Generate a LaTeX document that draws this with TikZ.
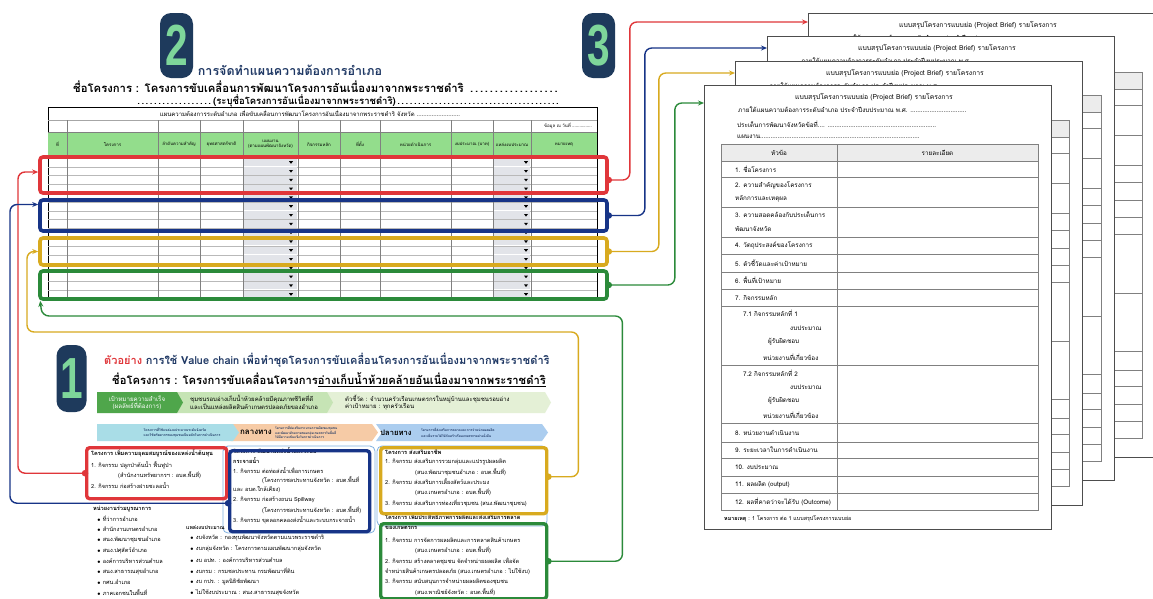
\documentclass[tikz,border=0pt]{standalone}
\usepackage{fontspec}
\setmainfont{Loma}[Script=Thai]
\newfontfamily\digitfont{Liberation Sans}
\usetikzlibrary{positioning,arrows.meta}

\definecolor{badgeblue}{HTML}{1E3A5C}
\definecolor{badgegreen}{HTML}{7ED69A}
\definecolor{titleblue}{HTML}{1F3864}
\definecolor{cred}{HTML}{E0363A}
\definecolor{cblue}{HTML}{173487}
\definecolor{cyellow}{HTML}{D8AA1F}
\definecolor{cgreen}{HTML}{2B8A3A}
\definecolor{headgreen}{HTML}{93DD8C}
\definecolor{dropgray}{HTML}{E2E4E9}
\definecolor{pagegray}{HTML}{4D4D4D}
\definecolor{vcdark}{HTML}{4FA64B}
\definecolor{vcmid}{HTML}{C6E4B5}
\definecolor{vclight}{HTML}{E4F0D6}
\definecolor{vccyan}{HTML}{A9DDE7}
\definecolor{vcpeach}{HTML}{F6CBA6}
\definecolor{vcblue}{HTML}{ABCDEF}
\definecolor{lineblue}{HTML}{7FB0E0}

\tikzset{
  badge/.style={fill=badgeblue, rounded corners=11pt, minimum width=33pt,
    minimum height=65pt, inner sep=0pt, text=badgegreen,
    font=\digitfont\bfseries\fontsize{58}{58}\selectfont},
  rowbox/.style={draw=#1, line width=3.6pt, rounded corners=3pt,
    minimum width=567pt, inner sep=0pt},
  exbox/.style={draw=#1, line width=3.4pt, rounded corners=3pt,
    inner sep=0pt, anchor=north west},
  page/.style={draw=pagegray, line width=1.1pt, fill=white, minimum width=347pt,
    minimum height=444pt, anchor=north west, inner sep=0pt},
  link/.style={line width=1.4pt, rounded corners=7pt, -{Stealth[length=6pt,width=5pt]}},
  dot/.style={circle, fill, inner sep=0pt, minimum size=6.5pt},
  tiny/.style={font=\fontsize{4.4}{5}\selectfont, inner sep=0pt},
  chevtext/.style={inner sep=0pt, align=left, text=titleblue,
    font=\bfseries\fontsize{3.4}{5.6}\selectfont},
  doctext/.style={font=\fontsize{6.3}{7}\selectfont, inner sep=0pt, anchor=west},
  extext/.style={font=\fontsize{5.6}{6.5}\selectfont, inner sep=0pt, anchor=west},
  exhead/.style={extext, font=\bfseries\fontsize{5.6}{6.5}\selectfont},
}

\begin{document}
\begin{tikzpicture}[x=1pt, y=-1pt]

% page frame and table grid of one project brief
\newcommand\briefhead[1]{%
  \begin{scope}[shift={(#1.north west)}]
    \node[font=\fontsize{6.8}{8}\selectfont, inner sep=0pt] (#1-title) at (170,12) {แบบสรุปโครงการแบบย่อ (Project Brief) รายโครงการ};
    \node[doctext] (#1-l1) at (34,25) {ภายใต้แผนความต้องการระดับอำเภอ ประจำปีงบประมาณ พ.ศ. ................................};
    \fill[gray!15] (17,59) rectangle (334,76);
    \foreach \ry in {76,92,122,152,169,187,204,221,280,338,357,373,391,408}
      \draw[gray, line width=0.6pt] (17,\ry) -- (334,\ry);
    \draw[gray, line width=0.9pt] (17,59) rectangle (334,425);
    \draw[gray, line width=0.6pt] (133,59) -- (133,425);
  \end{scope}}
% texts of the front brief
\newcommand\brieftexts[1]{%
  \begin{scope}[shift={(#1.north west)}]
    \node[doctext] (#1-l2) at (33,39) {ประเด็นการพัฒนาจังหวัดข้อที่.... ..............................................................};
    \node[doctext] (#1-l3) at (33,52) {แผนงาน...........................................................................................};
    \node[doctext, anchor=center] (#1-h1) at (75,67.5) {หัวข้อ};
    \node[doctext, anchor=center] (#1-h2) at (233.5,67.5) {รายละเอียด};
    \foreach \ry/\rt [count=\i] in {84/1. ชื่อโครงการ, 100/2. ความสำคัญของโครงการ, 114/หลักการและเหตุผล,
        130/3. ความสอดคล้องกับประเด็นการ, 144/พัฒนาจังหวัด, 160.5/4. วัตถุประสงค์ของโครงการ,
        178/5. ตัวชี้วัดและค่าเป้าหมาย, 195.5/6. พื้นที่เป้าหมาย, 212.5/7. กิจกรรมหลัก,
        347.5/8. หน่วยงานดำเนินงาน, 365/9. ระยะเวลาในการดำเนินงาน, 382/10. งบประมาณ,
        399.5/11. ผลผลิต (output), 416.5/12. ผลที่คาดว่าจะได้รับ (Outcome)}
      \node[doctext] (#1-r\i) at (31,\ry) {\rt};
    \foreach \ry/\rx/\rt [count=\i] in {228/39/7.1 กิจกรรมหลักที่ 1, 243/86/งบประมาณ, 257/64/ผู้รับผิดชอบ,
        272/59/หน่วยงานที่เกี่ยวข้อง, 288/39/7.2 กิจกรรมหลักที่ 2, 302/86/งบประมาณ,
        316/64/ผู้รับผิดชอบ, 330/59/หน่วยงานที่เกี่ยวข้อง}
      \node[doctext] (#1-s\i) at (\rx,\ry) {\rt};
    \node[doctext, font=\fontsize{5.4}{6}\selectfont] (#1-note) at (20,434) {\textbf{หมายเหตุ} : 1 โครงการ ต่อ 1 แบบสรุปโครงการแบบย่อ};
  \end{scope}}

\useasboundingbox (0,0) rectangle (1153,598);
\fill[white] (0,0) rectangle (1153,598);

% Step 2 : plan table
\node[badge] (badge2) at (176.5,45.5) {\scalebox{0.7}[1]{2}};
\node[font=\bfseries\fontsize{12.5}{14}\selectfont, text=titleblue, inner sep=0pt] (plantitle) at (290,70) {การจัดทำแผนความต้องการอำเภอ};
\node[font=\bfseries\fontsize{11.3}{12}\selectfont, inner sep=0pt, anchor=west, text width=487pt] (planname) at (73,87) {ชื่อโครงการ : โครงการขับเคลื่อนการพัฒนาโครงการอันเนื่องมาจากพระราชดำริ \dotfill};
\node[font=\bfseries\fontsize{9.5}{11}\selectfont, inner sep=0pt, anchor=west, text width=425pt] (plannote) at (135,101) {\makebox[78pt]{\dotfill}(ระบุชื่อโครงการอันเนื่องมาจากพระราชดำริ)\dotfill};

\draw[line width=0.8pt] (48,107) rectangle (597,299);
\draw[gray!70] (48,120) -- (597,120);
\fill[headgreen] (48,132) rectangle (597,157);
\draw[gray] (48,132) -- (597,132) (48,157) -- (597,157);
\foreach \k in {0,...,15} {
  \pgfmathsetmacro{\ry}{158+\k*8.8}
  \fill[dropgray] (244,\ry+0.6) rectangle (297,\ry+8.2);
  \fill[dropgray] (494,\ry+0.6) rectangle (530,\ry+8.2);
  \fill (289,\ry+3.2) -- ++(4,0) -- ++(-2,2.6) -- cycle;
  \fill (524,\ry+3.2) -- ++(4,0) -- ++(-2,2.6) -- cycle;
  \draw[gray!55] (48,\ry+8.8) -- (597,\ry+8.8);
}
\foreach \cx in {67,158,200,243,298,340,380,451,493,531}
  \draw[gray] (\cx,120) -- (\cx,299);
\node[tiny, font=\fontsize{6}{7}\selectfont] (tabtitle) at (310,113.5) {แผนความต้องการระดับอำเภอ เพื่อขับเคลื่อนการพัฒนาโครงการอันเนื่องมาจากพระราชดำริ จังหวัด ..........................};
\node[tiny, anchor=east] (tabdate) at (592,126) {ข้อมูล ณ วันที่ ................};
\foreach \cx/\lab [count=\i] in {57.5/ที่, 112.5/โครงการ, 179/ลำดับความสำคัญ, 221.5/ยุทธศาสตร์ชาติ,
    270.5/{แผนงาน\\(ตามแผนพัฒนาจังหวัด)}, 319/กิจกรรมหลัก, 360/ที่ตั้ง, 415.5/หน่วยดำเนินการ,
    472/งบประมาณ (บาท), 512/แหล่งงบประมาณ, 564/หมายเหตุ}
  \node[tiny, align=center] (head\i) at (\cx,144.5) {\lab};

\node[rowbox=cred, minimum height=36pt] (rowred) at (323.5,175) {};
\node[rowbox=cblue, minimum height=31pt] (rowblue) at (323.5,215.5) {};
\node[rowbox=cyellow, minimum height=27pt] (rowyel) at (323.5,251.5) {};
\node[rowbox=cgreen, minimum height=28pt] (rowgrn) at (323.5,285) {};

% Step 3 : project briefs
\node[badge] (badge3) at (598.5,45.5) {\scalebox{0.7}[1]{3}};
\node[page] (brief1) at (808,13) {};
\briefhead{brief1}
\node[page] (brief2) at (767,36) {};
\briefhead{brief2}
\node[page] (brief3) at (735,61) {};
\briefhead{brief3}
\node[page] (brief4) at (704,85) {};
\briefhead{brief4}
\brieftexts{brief4}

\node[dot, cred] (rdot) at ([yshift=-5pt]rowred.east) {};
\node[dot, cblue] (bdot) at (rowblue.east) {};
\node[dot, cyellow] (ydot) at (rowyel.east) {};
\node[dot, cgreen] (gdot) at (rowgrn.east) {};
\coordinate (rin) at ([yshift=-9pt]brief1.north west);
\coordinate (bin) at ([yshift=-12pt]brief2.north west);
\coordinate (yin) at ([yshift=-12pt]brief3.north west);
\coordinate (gin) at ([yshift=-18pt]brief4.north west);
\draw[link, cred] (rdot.center) -- ++(21,0) |- (rin);
\draw[link, cblue] (bdot.center) -- ++(36,0) |- (bin);
\draw[link, cyellow] (ydot.center) -- ++(50,0) |- (yin);
\draw[link, cgreen] (gdot.center) -- ++(66,0) |- (gin);

% Step 1 : value chain example
\node[badge, minimum width=30pt, minimum height=67pt] (badge1) at (71.5,378.5) {\scalebox{0.7}[1]{1}};
\node[font=\bfseries\fontsize{11}{12}\selectfont, inner sep=0pt, anchor=west] (extitle) at (104,360) {\textcolor{cred}{ตัวอย่าง} \textcolor{titleblue}{การใช้ Value chain เพื่อทำชุดโครงการขับเคลื่อนโครงการอันเนื่องมาจากพระราชดำริ}};
\node[font=\bfseries\fontsize{11.2}{12}\selectfont, inner sep=0pt, anchor=west] (exname) at (112,380) {ชื่อโครงการ : โครงการขับเคลื่อนโครงการ\underline{อ่างเก็บน้ำห้วยคล้ายอันเนื่องมาจากพระราชดำริ}};

\fill[vclight] (327,392) -- (545,392) -- (551,402.5) -- (545,413) -- (327,413) -- cycle;
\fill[vcmid] (177,392) -- (327,392) -- (333,402.5) -- (327,413) -- (177,413) -- cycle;
\fill[vcdark] (97,392) -- (177,392) -- (183,402.5) -- (177,413) -- (97,413) -- cycle;
\node[font=\fontsize{6.2}{7.4}\selectfont, text=white, align=center, inner sep=0pt] (goal) at (137,402.5) {เป้าหมายความสำเร็จ\\(ผลลัพธ์ที่ต้องการ)};
\node[font=\fontsize{6}{7.6}\selectfont, align=left, inner sep=0pt, anchor=west] (goaltext) at (190,402.5) {ชุมชนรอบอ่างเก็บน้ำห้วยคล้ายมีคุณภาพชีวิตที่ดี\\และเป็นแหล่งผลิตสินค้าเกษตรปลอดภัยของอำเภอ};
\node[font=\fontsize{6}{7.6}\selectfont, align=left, inner sep=0pt, anchor=west] (goalkpi) at (345,402.5) {ตัวชี้วัด : จำนวนครัวเรือนเกษตรกรในหมู่บ้านและชุมชนรอบอ่าง\\ค่าเป้าหมาย : ทุกครัวเรือน};

\fill[vcblue] (376,424) -- (542,424) -- (548,432.5) -- (542,441) -- (376,441) -- (382,432.5) -- cycle;
\fill[vcpeach] (231,424) -- (372,424) -- (378,432.5) -- (372,441) -- (231,441) -- (237,432.5) -- cycle;
\fill[vccyan] (97,424) -- (233,424) -- (239,432.5) -- (233,441) -- (97,441) -- cycle;
\node[chevtext] (starttext) at (182,432.5) {โครงการที่ใช้แหล่งงบประมาณระดับจังหวัด\\และใช้ทรัพยากรของชุมชนเป็นหลักในการดำเนินการ};
\node[font=\bfseries\fontsize{8}{9}\selectfont, inner sep=0pt] (midlabel) at (256,432.5) {กลางทาง};
\node[chevtext, font=\bfseries\fontsize{3.2}{4.6}\selectfont, anchor=west] (midtext) at (275,432.5) {โครงการที่ส่งเสริมกระบวนการผลิตของชุมชน\\และพัฒนาศักยภาพของกลุ่มเกษตรกรในพื้นที่\\ให้มีความเข้มแข็งในการดำเนินการ};
\node[font=\bfseries\fontsize{7.6}{9}\selectfont, inner sep=0pt] (endlabel) at (396,432.5) {ปลายทาง};
\node[chevtext, font=\bfseries\fontsize{3.3}{6.2}\selectfont, anchor=west] (endtext) at (421,432.5) {โครงการที่ส่งเสริมการตลาดและการจำหน่ายผลผลิต\\และเพิ่มรายได้ให้กับครัวเรือนเกษตรกรอย่างยั่งยืน};

\draw[lineblue, line width=0.8pt, rounded corners=5pt] (223,446) rectangle (375,533);
\draw[lineblue, line width=0.8pt, rounded corners=5pt] (377,446) rectangle (547,526);

% value chain projects
\node[exhead] (redh) at (91,453) {โครงการ เพิ่มความอุดมสมบูรณ์ของแหล่งน้ำต้นทุน};
\node[extext] (red1) at (91,465) {1. กิจกรรม ปลูกป่าต้นน้ำ ฟื้นฟูป่า};
\node[extext] (red2) at (118,475.5) {(สำนักงานทรัพยากรฯ : อบต.พื้นที่)};
\node[extext] (red3) at (91,486) {2. กิจกรรม ก่อสร้างฝายชะลอน้ำ};

\node[exhead] (blueh) at (233,451) {โครงการ พัฒนาแหล่งน้ำและระบบ};
\node[exhead] (blueh2) at (233,460.5) {กระจายน้ำ};
\foreach \ry/\rx/\rt [count=\i] in {470.5/233/1. กิจกรรม ต่อท่อส่งน้ำเพื่อการเกษตร,
    480.5/262/(โครงการชลประทานจังหวัด : อบต.พื้นที่, 490/233/และ อบต.ใกล้เคียง),
    500/233/2. กิจกรรม ก่อสร้างถนน Spillway, 510/262/(โครงการชลประทานจังหวัด : อบต.พื้นที่),
    520/233/3. กิจกรรม ขุดลอกคลองส่งน้ำและระบบกระจายน้ำ}
  \node[extext] (blue\i) at (\rx,\ry) {\rt};

\node[exhead] (yelh) at (385,452) {โครงการ ส่งเสริมอาชีพ};
\foreach \ry/\rx/\rt [count=\i] in {462/385/1. กิจกรรม ส่งเสริมการรวมกลุ่มและแปรรูปผลผลิต,
    472/415/(สนง.พัฒนาชุมชนอำเภอ : อบต.พื้นที่), 482/385/2. กิจกรรม ส่งเสริมการเลี้ยงสัตว์และประมง,
    492/415/(สนง.เกษตรอำเภอ : อบต.พื้นที่), 503/385/3. กิจกรรม ส่งเสริมการท่องเที่ยวชุมชน (สนง.พัฒนาชุมชน)}
  \node[extext] (yel\i) at (\rx,\ry) {\rt};

\node[exhead] (grnh) at (385,517) {โครงการ เพิ่มประสิทธิภาพการผลิตและส่งเสริมการตลาด};
\node[exhead] (grnh2) at (385,528) {ของเกษตรกร};
\foreach \ry/\rx/\rt [count=\i] in {540/385/1. กิจกรรม การจัดการผลผลิตและการตลาดสินค้าเกษตร,
    550.5/415/(สนง.เกษตรอำเภอ : อบต.พื้นที่), 561/385/2. กิจกรรม สร้างตลาดชุมชน จัดจำหน่ายผลผลิต เพื่อจัด,
    571.5/385/จำหน่ายสินค้าเกษตรปลอดภัย (สนง.เกษตรอำเภอ : ไม่ใช้งบ), 582/385/3. กิจกรรม สนับสนุนการจำหน่ายผลผลิตของชุมชน,
    592/415/(สนง.พาณิชย์จังหวัด : อบต.พื้นที่)}
  \node[extext] (grn\i) at (\rx,\ry) {\rt};

\node[exhead] (partners) at (93,509) {หน่วยงานร่วมบูรณาการ};
\foreach \ry/\rt [count=\i] in {519/ที่ว่าการอำเภอ, 529.5/สำนักงานเกษตรอำเภอ, 540/สนง.พัฒนาชุมชนอำเภอ,
    550.5/สนง.ปศุสัตว์อำเภอ, 561/องค์การบริหารส่วนตำบล, 571.5/สนง.สาธารณสุขอำเภอ,
    582/กศน.อำเภอ, 592.5/ภาคเอกชนในพื้นที่}
  \node[extext] (partner\i) at (97,\ry) {$\scriptstyle\bullet$\ \rt};
\node[exhead, font=\bfseries\fontsize{5.2}{6}\selectfont] (budgets) at (186,527) {แหล่งงบประมาณ};
\foreach \ry/\rt [count=\i] in {538/งบจังหวัด : กองทุนพัฒนาจังหวัดตามแนวพระราชดำริ,
    549/งบกลุ่มจังหวัด : โครงการตามแผนพัฒนากลุ่มจังหวัด, 560/งบ อปท. : องค์การบริหารส่วนตำบล,
    571/งบกรม : กรมชลประทาน กรมพัฒนาที่ดิน, 582/งบ กปร. : มูลนิธิชัยพัฒนา,
    592.5/ไม่ใช้งบประมาณ : สนง.สาธารณสุขจังหวัด}
  \node[extext] (budget\i) at (190,\ry) {$\scriptstyle\bullet$\ \rt};

\node[exbox=cred, minimum width=140pt, minimum height=51pt] (exred) at (85,446) {};
\node[exbox=cblue, minimum width=140pt, minimum height=81pt] (exblue) at (228,449) {};
\node[exbox=cyellow, minimum width=166pt, minimum height=66pt] (exyel) at (379,446) {};
\node[exbox=cgreen, minimum width=166pt, minimum height=75pt] (exgrn) at (379,522) {};

% links back to the plan table
\node[dot, cred] (rdotL) at (exred.west) {};
\node[dot, cblue] (bdotL) at ([yshift=-12pt]exblue.west) {};
\node[dot, cyellow] (ydotL) at ([yshift=4pt]exyel.east) {};
\node[dot, cgreen] (gdotL) at (exgrn.east) {};
\coordinate (rinL) at ([yshift=3pt]rowred.west);
\coordinate (binL) at ([yshift=11pt]rowblue.west);
\coordinate (yinL) at (rowyel.west);
\coordinate (ginL) at ([xshift=2pt]rowgrn.south west);
\coordinate (ybend) at (27,332);
\coordinate (gbend) at (42,316);
\draw[link, cred] (rdotL.center) -- ++(-67,0) |- (rinL);
\draw[link, cblue] (bdotL.center) -- ++(-218,0) |- (binL);
\draw[link, cyellow] (ydotL.center) -- ++(30,0) |- (ybend) |- (yinL);
\draw[link, cgreen] (gdotL.center) -- ++(74,0) |- (gbend) -- (ginL);

\end{tikzpicture}
\end{document}
